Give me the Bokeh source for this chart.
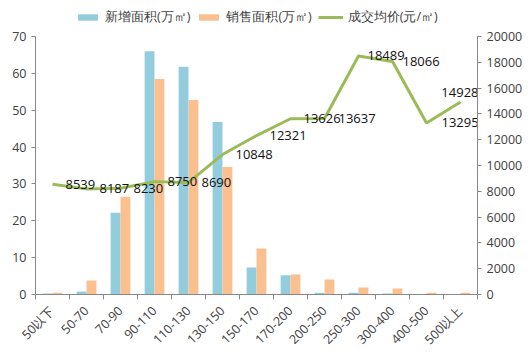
from bokeh.plotting import figure
from bokeh.layouts import column
from bokeh.core.properties import value
from bokeh.models import (Range1d, LinearAxis, FixedTicker, ColumnDataSource,
                          Legend, LegendItem)
from bokeh.embed import file_html
from bokeh.resources import INLINE

categories = ["50以下", "50-70", "70-90", "90-110", "110-130", "130-150", "150-170",
              "170-200", "200-250", "250-300", "300-400", "400-500", "500以上"]
new_area = [0.3, 0.8, 22.2, 66.0, 61.8, 46.8, 7.3, 5.2, 0.5, 0.5, 0.3, 0.0, 0.0]
sold_area = [0.5, 3.8, 26.5, 58.5, 52.8, 34.6, 12.5, 5.4, 4.1, 1.9, 1.6, 0.5, 0.5]
avg_price = [8539, 8187, 8230, 8750, 8690, 10848, 12321, 13626, 13637, 18489, 18066, 13295, 14928]
left_ticks = [0, 10, 20, 30, 40, 50, 60, 70]
right_ticks = [0, 2000, 4000, 6000, 8000, 10000, 12000, 14000, 16000, 18000, 20000]
series_names = ["新增面积(万㎡)", "销售面积(万㎡)", "成交均价(元/㎡)"]

FONT = "Open Sans"
TXT = "#404040"
C_NEW, C_SOLD, C_PRICE = "#93CDDD", "#FAC090", "#9BBB59"
n = len(categories)
centers = [i + 0.5 for i in range(n)]
bounds = [float(i) for i in range(n + 1)]

# label placement (style only)
xo = [13, 13, 13, 13, 13, 13, 13, 13, 14, 9, 10, 15, 18]
yo = [0] * n
al = ["left"] * n
yo[-1] = -9
al[-1] = "right"

src = ColumnDataSource(dict(
    x1=[c - 0.145 for c in centers], x2=[c + 0.145 for c in centers],
    xc=centers, new=new_area, sold=sold_area, price=avg_price,
    lbl=[str(v) for v in avg_price], xo=xo, yo=yo, al=al))

p = figure(frame_width=442, frame_height=258, output_backend="svg", toolbar_location=None,
           x_range=Range1d(0, n), y_range=Range1d(0, 70),
           min_border_left=35, min_border_right=10, min_border_bottom=10,
           min_border_top=8)
p.extra_y_ranges = {"price": Range1d(0, 20000)}
p.outline_line_color = None
p.xgrid.visible = False
p.ygrid.visible = False

p.vbar(x="x1", top="new", width=0.29, source=src, fill_color=C_NEW, line_color=None)
p.vbar(x="x2", top="sold", width=0.29, source=src, fill_color=C_SOLD, line_color=None)
p.line(x="xc", y="price", source=src, y_range_name="price", line_color=C_PRICE, line_width=3)
p.text(x="xc", y="price", text="lbl", source=src, y_range_name="price",
       x_offset="xo", y_offset="yo", text_align="al", text_baseline="middle",
       text_font_size="13px", text_color="#111111", text_font=value(FONT))

xa = p.xaxis[0]
xa.ticker = FixedTicker(ticks=centers, minor_ticks=bounds)
xa.major_label_overrides = {c: lab for c, lab in zip(centers, categories)}
xa.major_tick_line_color = None
xa.minor_tick_out = 5
xa.minor_tick_in = 0
xa.minor_tick_line_color = "#888888"
xa.axis_line_color = "#888888"
xa.major_label_orientation = 0.785
xa.major_label_standoff = 8
xa.major_label_text_font = FONT
xa.major_label_text_font_size = "12.5px"
xa.major_label_text_color = TXT

ya = p.yaxis[0]
ya.ticker = FixedTicker(ticks=left_ticks)
ya.minor_tick_line_color = None
ya.major_tick_in = 0
ya.major_tick_out = 4
ya.axis_line_color = "#888888"
ya.major_tick_line_color = "#888888"
ya.major_label_text_font = FONT
ya.major_label_text_font_size = "12.5px"
ya.major_label_text_color = TXT

ra = LinearAxis(y_range_name="price", ticker=FixedTicker(ticks=right_ticks))
ra.minor_tick_line_color = None
ra.major_tick_in = 0
ra.major_tick_out = 4
ra.axis_line_color = "#888888"
ra.major_tick_line_color = "#888888"
ra.major_label_text_font = FONT
ra.major_label_text_font_size = "12.5px"
ra.major_label_text_color = TXT
p.add_layout(ra, "right")

# legend strip above the chart (swatch renderers hold no visible data)
lg = figure(width=522, height=28, output_backend="svg", toolbar_location=None,
            x_range=Range1d(0, 1), y_range=Range1d(0, 1), min_border=0)
lg.axis.visible = False
lg.grid.visible = False
lg.outline_line_color = None
e = ColumnDataSource(dict(x=[float("nan")], y=[float("nan")]))
g1 = lg.vbar(x="x", top="y", width=1, source=e, fill_color=C_NEW, line_color=None)
g2 = lg.vbar(x="x", top="y", width=1, source=e, fill_color=C_SOLD, line_color=None)
g3 = lg.line(x="x", y="y", source=e, line_color=C_PRICE, line_width=3)
legend = Legend(items=[LegendItem(label=series_names[0], renderers=[g1]),
                       LegendItem(label=series_names[1], renderers=[g2]),
                       LegendItem(label=series_names[2], renderers=[g3])],
                orientation="horizontal", location=(40, 2),
                border_line_color=None, background_fill_alpha=0,
                label_text_font=FONT, label_text_font_size="12.5px",
                label_text_color=TXT, glyph_width=25, glyph_height=8,
                spacing=6, padding=2, margin=0, label_standoff=5)
lg.add_layout(legend, "center")

layout = column(lg, p, spacing=0)
open("out.html", "w").write(file_html(layout, INLINE))
